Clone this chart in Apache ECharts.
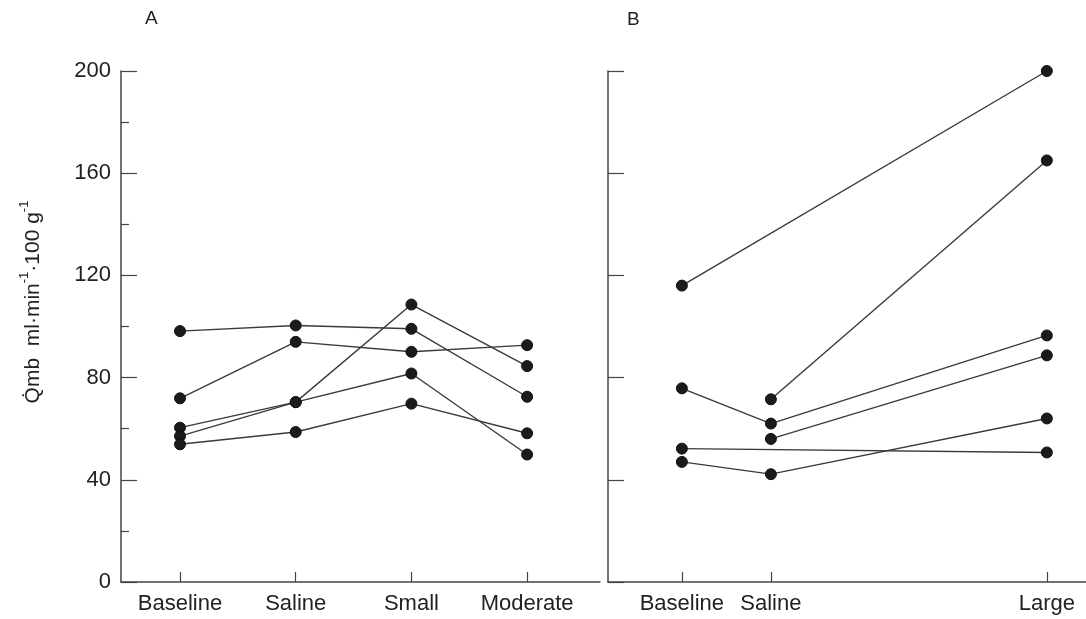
<!DOCTYPE html>
<html>
<head>
<meta charset="utf-8">
<script src="https://cdn.jsdelivr.net/npm/echarts@6/dist/echarts.min.js"></script>
<style>
html,body{margin:0;padding:0;background:#fff;}
#chart{width:1086px;height:619px;}
</style>
</head>
<body>
<div id="chart"></div>
<script>
// ---- data ----
const categoriesA = ['Baseline', 'Saline', 'Small', 'Moderate'];
const seriesA1 = [98.2, 100.4, 99.1, 72.5];
const seriesA2 = [71.9, 94.0, 90.1, 92.7];
const seriesA3 = [60.4, 70.4, 108.6, 84.5];
const seriesA4 = [57.1, 70.4, 81.6, 49.9];
const seriesA5 = [53.9, 58.7, 69.8, 58.2];

const categoriesB = ['Baseline', 'Saline', 'Large'];
const seriesB1 = [116, null, 200];
const seriesB2 = [null, 71.5, 165];
const seriesB3 = [75.8, 62, 96.5];
const seriesB4 = [null, 56, 88.7];
const seriesB5 = [52.2, null, 50.7];
const seriesB6 = [47, 42.2, 64];

const yTicks = [0, 40, 80, 120, 160, 200];
const panelLabels = ['A', 'B'];
const yTitle = ['Q\u0307mb  ml\u00B7min', '-1', '\u00B7100 g', '-1'];

// ---- layout (not data) ----
const slotA = [0, 1, 2, 3];
const slotB = [0, 1, 4.1];

const FONT = "'Liberation Sans', Arial, sans-serif";
const AX = '#444';
const LN = '#3a3a3a';

function toPairs(slots, vals) {
  const out = [];
  vals.forEach((v, i) => { if (v !== null && v !== undefined) out.push([slots[i], v]); });
  return out;
}

function lineSeries(idx, slots, vals) {
  return {
    type: 'line', xAxisIndex: idx, yAxisIndex: idx,
    data: toPairs(slots, vals),
    symbol: 'circle', symbolSize: 11,
    lineStyle: { color: LN, width: 1.4 },
    itemStyle: { color: '#1b1b1b', borderColor: '#111', borderWidth: 1 },
    emphasis: { disabled: true },
    animation: false, z: 3
  };
}

const chart = echarts.init(document.getElementById('chart'), null, { renderer: 'canvas' });

function xAxisCfg(idx, cats, slots, min, max) {
  return {
    type: 'value', gridIndex: idx, min: min, max: max,
    splitLine: { show: false },
    axisLine: { show: true, onZero: false, lineStyle: { color: AX, width: 1.5 } },
    axisTick: { show: true, inside: true, length: 10, customValues: slots, lineStyle: { color: AX, width: 1.2 } },
    axisLabel: {
      show: true, customValues: slots, margin: 11,
      fontFamily: FONT, fontSize: 22, color: '#222',
      formatter: function (v) { const i = slots.indexOf(v); return i >= 0 ? cats[i] : ''; }
    }
  };
}

function yAxisCfg(idx, showLabels, minor) {
  return {
    type: 'value', gridIndex: idx, min: 0, max: 200, interval: 40,
    splitLine: { show: false },
    axisLine: { show: true, onZero: false, lineStyle: { color: AX, width: 1.5 } },
    axisTick: { show: true, inside: true, length: 16, lineStyle: { color: AX, width: 1.2 } },
    minorTick: { show: minor, splitNumber: 2, length: 8, lineStyle: { color: AX, width: 1.2 } },
    axisLabel: {
      show: showLabels, margin: 10,
      fontFamily: FONT, fontSize: 22, color: '#222',
      formatter: function (v) { return yTicks.indexOf(v) >= 0 ? String(v) : ''; }
    }
  };
}

const option = {
  backgroundColor: '#fff',
  animation: false,
  grid: [
    { left: 121, top: 71, width: 479, height: 511 },
    { left: 608, top: 71, width: 478, height: 511 }
  ],
  xAxis: [
    xAxisCfg(0, categoriesA, slotA, -0.51, 3.63),
    xAxisCfg(1, categoriesB, slotB, -0.83, 4.54)
  ],
  yAxis: [
    yAxisCfg(0, true, true),
    yAxisCfg(1, false, false)
  ],
  graphic: [
    { type: 'text', left: 145, top: 9, style: { text: panelLabels[0], fontFamily: FONT, fontSize: 19, fill: '#222' } },
    { type: 'text', left: 627, top: 10, style: { text: panelLabels[1], fontFamily: FONT, fontSize: 19, fill: '#222' } },
    {
      type: 'text', x: 31, y: 302, rotation: Math.PI / 2,
      style: {
        text: '{n|' + yTitle[0] + '}{s|' + yTitle[1] + '}{n|' + yTitle[2] + '}{s|' + yTitle[3] + '}',
        align: 'center', verticalAlign: 'middle',
        rich: {
          n: { fontFamily: FONT, fontSize: 21, lineHeight: 26, fill: '#222', verticalAlign: 'bottom' },
          s: { fontFamily: FONT, fontSize: 13, lineHeight: 13, fill: '#222', verticalAlign: 'top' }
        }
      }
    }
  ],
  series: [
    lineSeries(0, slotA, seriesA1),
    lineSeries(0, slotA, seriesA2),
    lineSeries(0, slotA, seriesA3),
    lineSeries(0, slotA, seriesA4),
    lineSeries(0, slotA, seriesA5),
    lineSeries(1, slotB, seriesB1),
    lineSeries(1, slotB, seriesB2),
    lineSeries(1, slotB, seriesB3),
    lineSeries(1, slotB, seriesB4),
    lineSeries(1, slotB, seriesB5),
    lineSeries(1, slotB, seriesB6)
  ]
};
chart.setOption(option);
</script>
</body>
</html>
